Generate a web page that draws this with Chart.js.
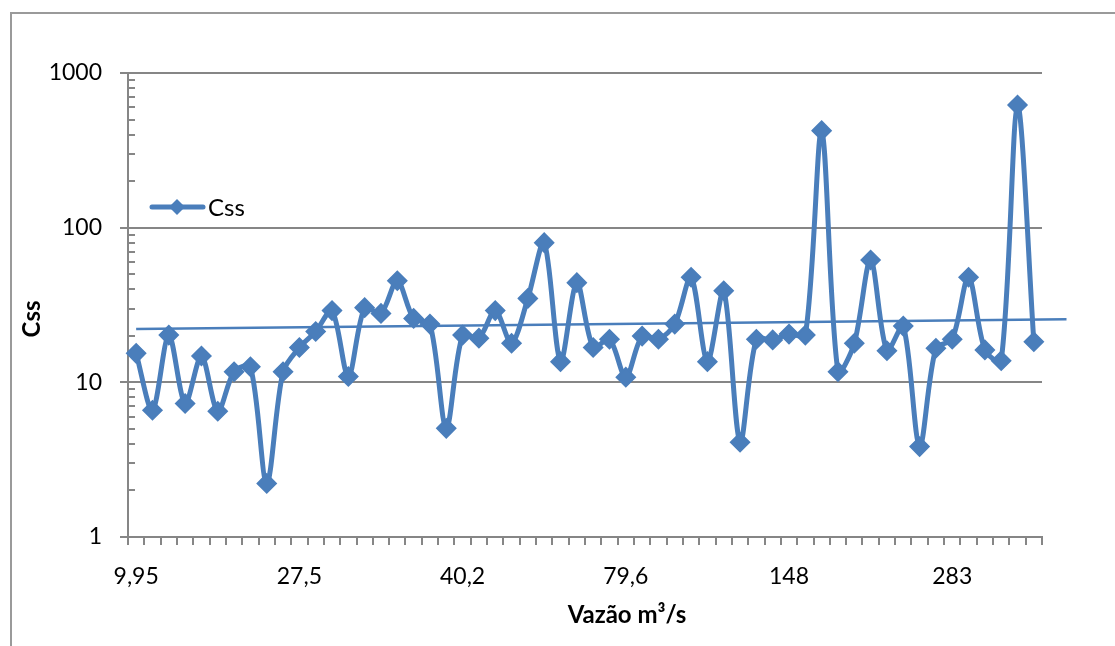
<!DOCTYPE html>
<html>
<head>
<meta charset="utf-8">
<script src="https://cdn.jsdelivr.net/npm/chart.js@4.4.1/dist/chart.umd.min.js"></script>
<style>
  html, body { margin: 0; padding: 0; background: #fff; }
  #wrap { width: 1115px; height: 646px; }
</style>
</head>
<body>
<div id="wrap"><canvas id="myChart" width="1115" height="646"></canvas></div>
<script>
// x labels shown every 10th category (flow, m³/s)
const tickLabels = ['9,95', '27,5', '40,2', '79,6', '148', '283'];

// Css values
const cssValues = [
  15.4, 6.6, 20.2, 7.3, 14.8, 6.5, 11.7, 12.6, 2.22, 11.7,
  16.8, 21.3, 29.1, 10.9, 30.4, 27.9, 45.4, 25.9, 23.8, 5.04,
  20.2, 19.3, 29.1, 17.9, 34.9, 80, 13.6, 44.1, 16.8, 19,
  10.8, 19.9, 19, 23.8, 47.8, 13.6, 39.1, 4.1, 19, 18.8,
  20.5, 20.2, 424, 11.7, 17.9, 61.8, 16, 23.1, 3.84, 16.6,
  19, 47.8, 16.2, 13.8, 621, 18.3
];

// exponential trend line, two ends (extends 2 periods forward)
const trendIndex = [0, 57];
const trendValues = [22.1, 25.6];

const yTicks = [1, 10, 100, 1000];

const categories = cssValues.map((v, i) => (i % 10 === 0 ? tickLabels[i / 10] : ''));
const trendData = trendIndex.map((x, i) => ({ x: x, y: trendValues[i] }));

const BLUE = '#4A7EBB';
const GRID = '#868686';
const FONT = 'Lato, "Open Sans", sans-serif';

const extras = {
  id: 'extras',
  beforeDraw(chart) {
    const ctx = chart.ctx;
    ctx.save();
    ctx.fillStyle = '#fff';
    ctx.fillRect(0, 0, chart.width, chart.height);
    // outer chart border (left + top visible)
    ctx.strokeStyle = '#9a9a9a';
    ctx.lineWidth = 2;
    ctx.beginPath();
    ctx.moveTo(11, chart.height + 2);
    ctx.lineTo(11, 13);
    ctx.lineTo(chart.width + 2, 13);
    ctx.stroke();
    ctx.restore();
  },
  beforeDatasetsDraw(chart) {
    const { ctx, chartArea, scales } = chart;
    const y = scales.y;
    ctx.save();
    ctx.strokeStyle = GRID;
    ctx.lineWidth = 2;
    ctx.beginPath();
    for (let k = 1; k < 1000; k *= 10) {
      for (let m = 2; m <= 9; m++) {
        const py = Math.round(y.getPixelForValue(m * k));
        ctx.moveTo(chartArea.left, py);
        ctx.lineTo(chartArea.left + 7, py);
      }
    }
    ctx.stroke();
    ctx.restore();
  },
  afterDraw(chart) {
    const ctx = chart.ctx;
    ctx.save();
    // axis titles
    ctx.fillStyle = '#000';
    ctx.font = 'bold 24px ' + FONT;
    ctx.textAlign = 'center';
    ctx.textBaseline = 'middle';
    ctx.fillText('Vazão m³/s', 627, 615);
    ctx.save();
    ctx.translate(32, 319);
    ctx.rotate(-Math.PI / 2);
    ctx.fillText('Css', 0, 0);
    ctx.restore();

    // legend
    ctx.strokeStyle = BLUE;
    ctx.lineWidth = 5;
    ctx.lineCap = 'round';
    ctx.beginPath();
    ctx.moveTo(152, 207);
    ctx.lineTo(203, 207);
    ctx.stroke();
    ctx.fillStyle = BLUE;
    ctx.beginPath();
    ctx.moveTo(177, 199);
    ctx.lineTo(185, 207);
    ctx.lineTo(177, 215);
    ctx.lineTo(169, 207);
    ctx.closePath();
    ctx.fill();
    ctx.fillStyle = '#000';
    ctx.font = '24px ' + FONT;
    ctx.textAlign = 'left';
    ctx.fillText('Css', 208, 208);
    ctx.restore();
  }
};

new Chart(document.getElementById('myChart'), {
  type: 'line',
  data: {
    labels: categories,
    datasets: [
      {
        label: 'Css',
        data: cssValues,
        borderColor: BLUE,
        backgroundColor: BLUE,
        borderWidth: 5,
        tension: 0.3,
        pointStyle: 'rectRot',
        pointRadius: 9.5,
        pointBorderWidth: 1.5,
        pointBackgroundColor: BLUE,
        pointBorderColor: BLUE
      },
      {
        label: 'trend',
        data: trendData,
        xAxisID: 'xt',
        borderColor: BLUE,
        borderWidth: 2.5,
        pointRadius: 0,
        tension: 0,
        clip: false
      }
    ]
  },
  options: {
    responsive: false,
    animation: false,
    events: [],
    layout: { padding: { left: 0, top: 73, right: 73, bottom: 0 } },
    plugins: {
      legend: { display: false },
      tooltip: { enabled: false }
    },
    scales: {
      x: {
        type: 'category',
        offset: true,
        grid: {
          offset: true,
          drawOnChartArea: false,
          drawTicks: true,
          tickLength: 8,
          color: GRID,
          lineWidth: 2
        },
        border: { display: true, color: GRID, width: 2 },
        ticks: {
          autoSkip: false,
          maxRotation: 0,
          minRotation: 0,
          padding: 18,
          color: '#000',
          font: { family: FONT, size: 23 }
        },
        afterFit(scale) { scale.height = 109; }
      },
      xt: {
        type: 'linear',
        display: false,
        min: -0.5,
        max: 55.5
      },
      y: {
        type: 'logarithmic',
        min: 1,
        max: 1000,
        afterBuildTicks(scale) {
          scale.ticks = yTicks.map(v => ({ value: v, major: true }));
        },
        grid: {
          color: GRID,
          lineWidth: 2,
          drawTicks: true,
          tickLength: 8
        },
        border: { display: true, color: GRID, width: 2 },
        ticks: {
          padding: 18,
          color: '#000',
          font: { family: FONT, size: 23 },
          callback: v => String(v)
        },
        afterFit(scale) { scale.width = 128; }
      }
    }
  },
  plugins: [extras]
});
</script>
</body>
</html>
